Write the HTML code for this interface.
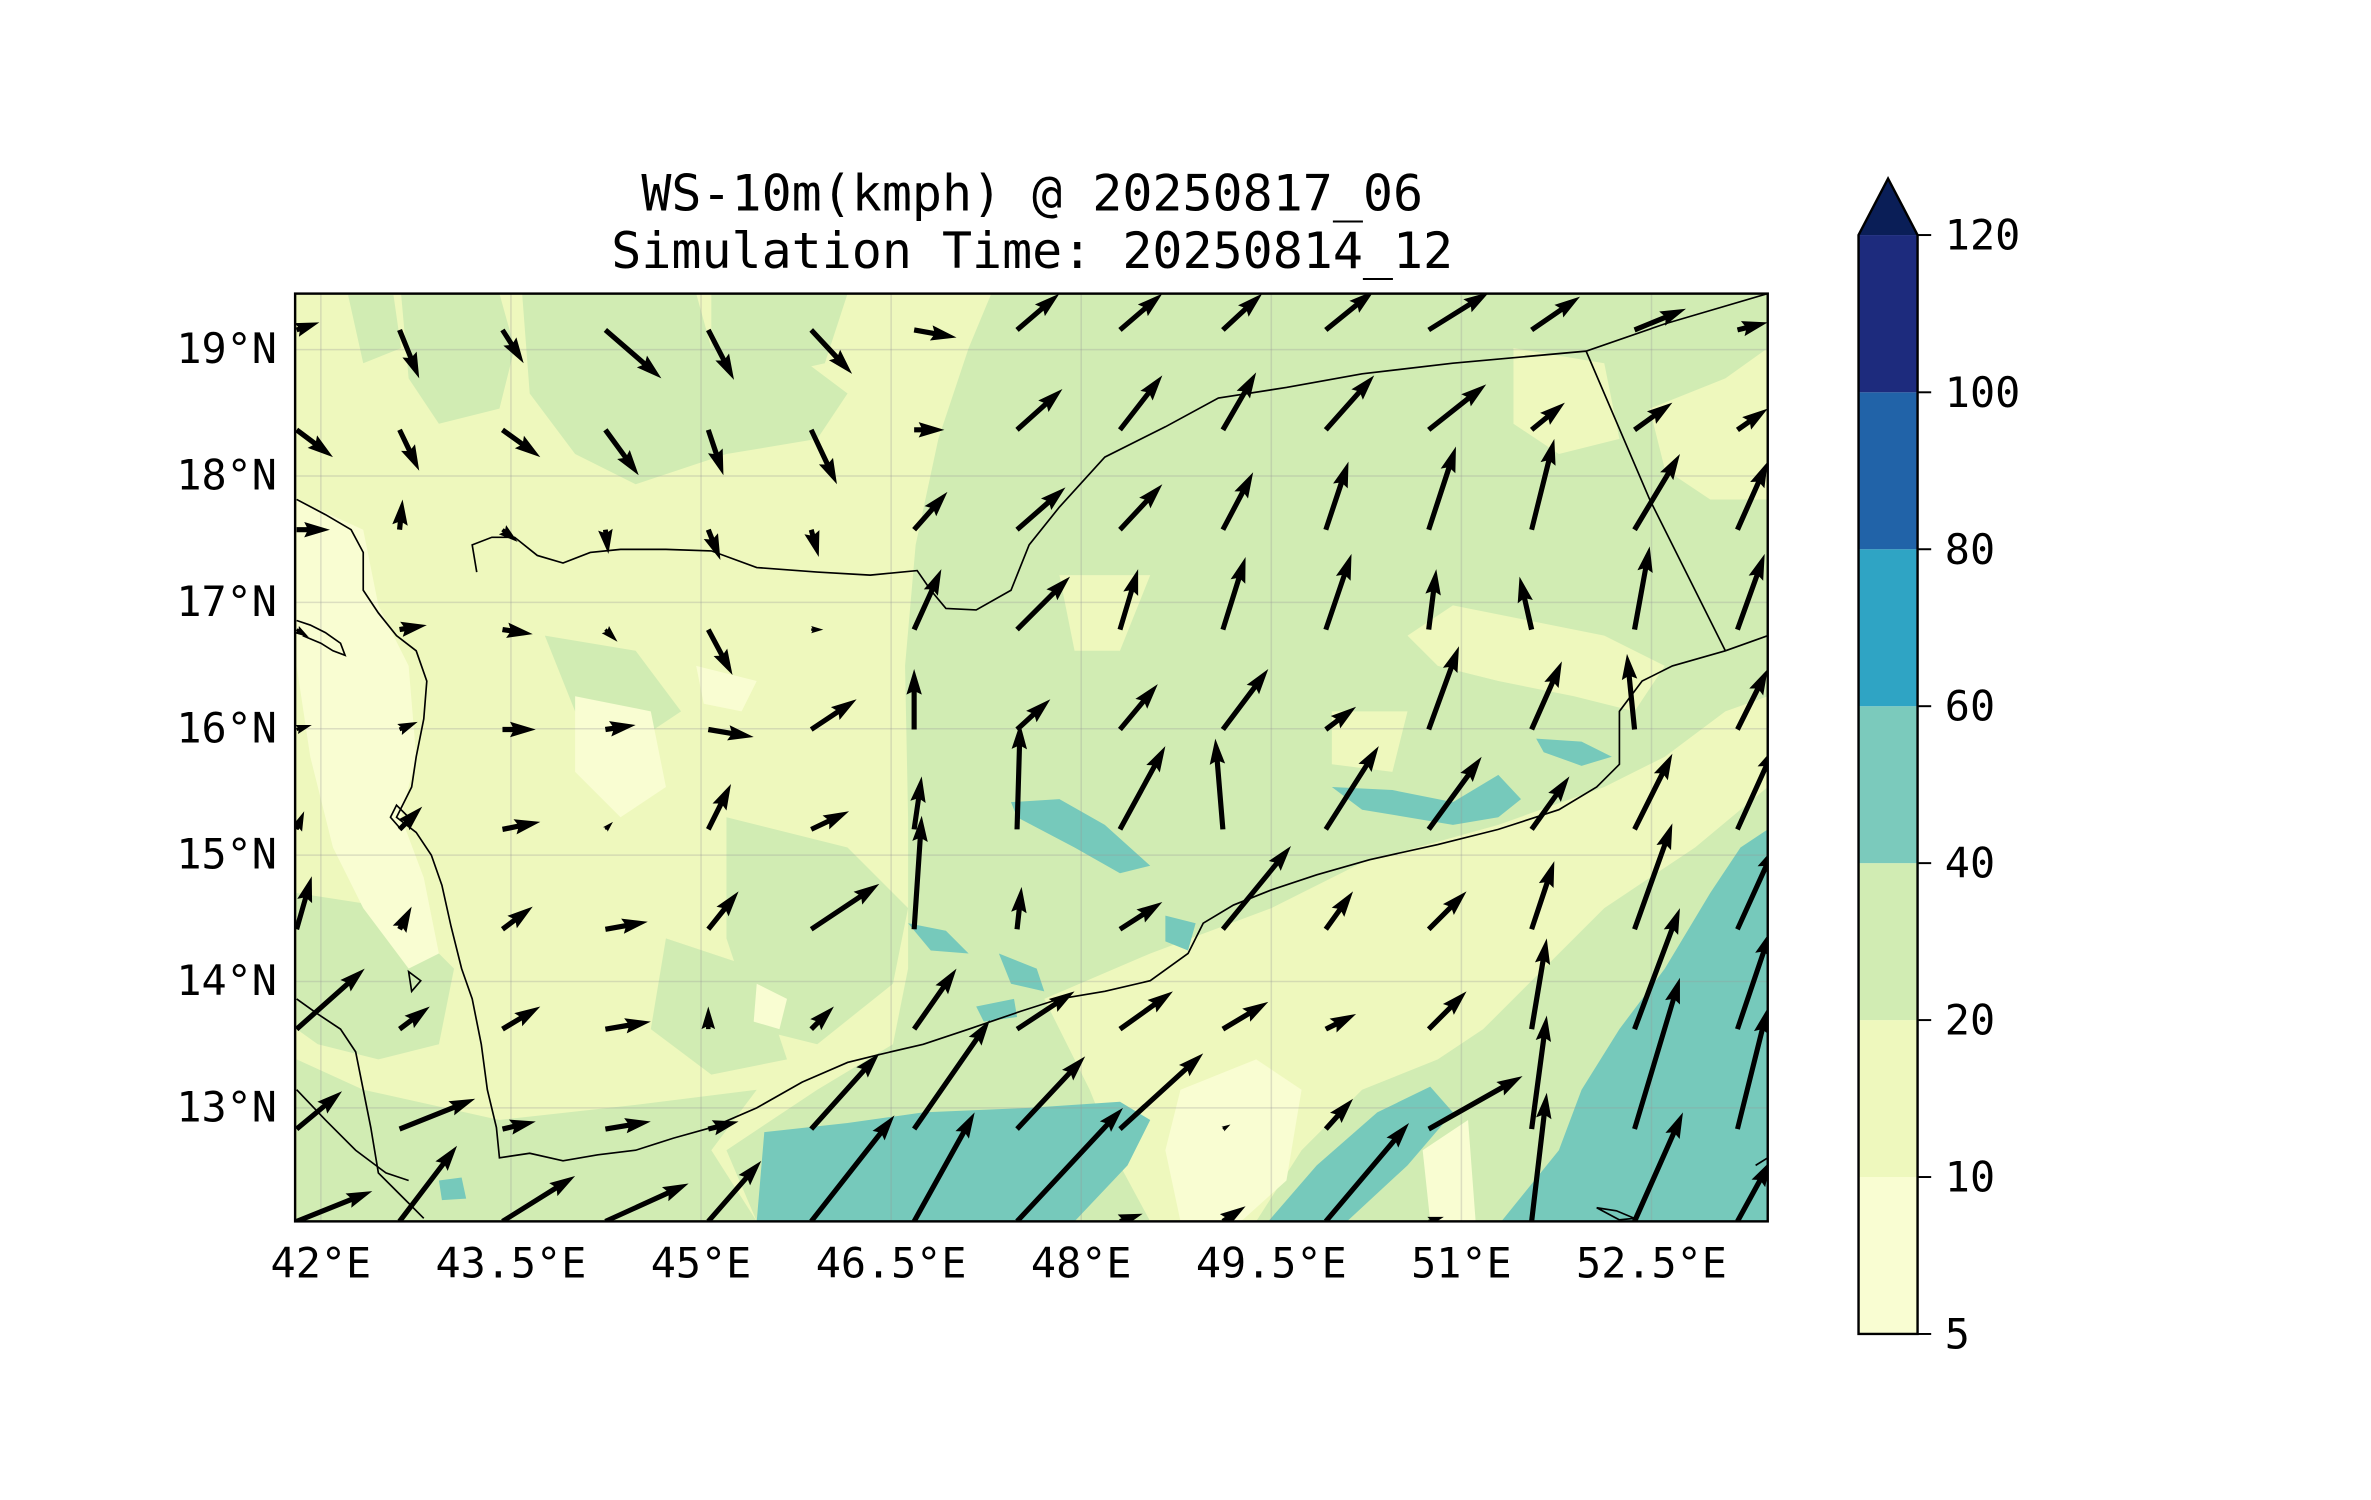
<!DOCTYPE html>
<html><head><meta charset="utf-8"><style>
html,body{margin:0;padding:0;background:#fff;}
svg{display:block;}
text{font-family:"DejaVu Sans Mono","Liberation Mono",monospace;fill:#000;}
</style></head><body>
<svg id="s" width="2371" height="1500" viewBox="0 0 1566.6 991.1" xmlns="http://www.w3.org/2000/svg">
<text x="682" y="139" font-size="33" text-anchor="middle">WS-10m(kmph) @ 20250817_06</text>
<text x="682" y="177" font-size="33" text-anchor="middle">Simulation Time: 20250814_12</text>
<defs><clipPath id="c"><rect x="195" y="194" width="973" height="613"/></clipPath></defs>
<g clip-path="url(#c)">
<rect x="195" y="194" width="973" height="613" fill="#eef8bd"/>
<g fill="#d1ecb3">
<path d="M265,194 L330,194 L340,230 L330,270 L290,280 L270,250 Z"/>
<path d="M345,194 L460,194 L470,230 L520,230 L560,260 L540,290 L480,300 L420,320 L380,300 L350,260 Z"/>
<path d="M470,194 L560,194 L545,240 L500,250 L470,230 Z"/>
<path d="M360,420 L420,430 L450,470 L420,490 L380,470 Z"/>
<path d="M196,590 L260,600 L300,640 L290,690 L250,700 L210,690 L196,680 Z"/>
<path d="M196,700 L240,720 L330,740 L350,807 L196,807 Z"/>
<path d="M330,740 L420,730 L500,720 L470,760 L500,807 L330,807 Z"/>
<path d="M480,540 L560,560 L600,600 L590,650 L540,690 L500,680 L480,620 Z"/>
<path d="M440,620 L500,640 L520,700 L470,710 L430,680 Z"/>
<path d="M230,195 L260,195 L265,230 L240,240 Z"/>
<path d="M655,194 L1168,194 L1168,807 L500,807 L480,760 L540,720 L590,690 L600,640 L600,540 L598,440 L605,360 L620,290 L640,230 Z"/>
</g>
<g fill="#eef8bd">
<path d="M690,660 L760,630 L840,600 L900,570 L990,545 L1060,520 L1100,500 L1140,470 L1168,460 L1168,520 L1120,560 L1060,600 L1020,640 L980,680 L950,700 L900,720 L860,760 L830,807 L760,807 L740,770 L720,720 Z"/>
<path d="M960,400 L1010,410 L1060,420 L1100,440 L1080,470 L1040,460 L990,450 L950,440 L930,420 Z"/>
<path d="M1000,230 L1060,240 L1070,290 L1030,300 L1000,280 Z"/>
<path d="M1090,270 L1140,250 L1168,230 L1168,330 L1130,330 L1100,310 Z"/>
<path d="M700,380 L760,380 L740,430 L710,430 Z"/>
<path d="M560,310 L590,300 L585,350 L570,380 L555,350 Z"/>
<path d="M880,470 L930,470 L920,510 L880,505 Z"/>
</g>
<g fill="#f9fdd2">
<path d="M196,330 L240,350 L250,400 L270,440 L275,500 L265,540 L280,580 L290,630 L270,640 L240,600 L220,560 L205,500 L196,440 Z"/>
<path d="M380,460 L430,470 L440,520 L410,540 L380,510 Z"/>
<path d="M780,720 L830,700 L860,720 L850,780 L820,807 L780,807 L770,760 Z"/>
<path d="M940,760 L970,740 L975,807 L945,807 Z"/>
<path d="M1140,750 L1168,740 L1168,807 L1150,807 Z"/>
<path d="M460,440 L500,450 L490,470 L465,465 Z"/>
<path d="M500,650 L520,660 L515,680 L498,675 Z"/>
</g>
<g fill="#76c9bb">
<path d="M505,748 L560,742 L610,735 L680,732 L740,728 L760,740 L745,770 L710,807 L500,807 Z"/>
<path d="M838,807 L870,770 L910,735 L945,718 L960,735 L930,770 L890,807 Z"/>
<path d="M992,807 L1030,760 L1045,720 L1070,680 L1100,640 L1130,590 L1150,560 L1168,548 L1168,807 Z"/>
<path d="M668,530 L700,528 L730,545 L760,572 L740,577 L710,560 L672,540 Z"/>
<path d="M880,520 L920,522 L960,530 L990,512 L1005,528 L990,540 L960,545 L900,535 Z"/>
<path d="M1015,488 L1045,490 L1065,500 L1045,506 L1020,497 Z"/>
<path d="M600,610 L625,615 L640,630 L615,628 Z"/>
<path d="M660,630 L685,640 L690,655 L668,650 Z"/>
<path d="M770,605 L790,610 L785,628 L770,622 Z"/>
<path d="M645,665 L670,660 L672,672 L650,675 Z"/>
<path d="M290,780 L305,778 L308,792 L292,793 Z"/>
</g>
<g stroke="#999" stroke-opacity="0.3" stroke-width="1">
<line x1="212" y1="194" x2="212" y2="807"/><line x1="337.6" y1="194" x2="337.6" y2="807"/><line x1="463.2" y1="194" x2="463.2" y2="807"/><line x1="588.8" y1="194" x2="588.8" y2="807"/><line x1="714.4" y1="194" x2="714.4" y2="807"/><line x1="840" y1="194" x2="840" y2="807"/><line x1="965.6" y1="194" x2="965.6" y2="807"/><line x1="1091.2" y1="194" x2="1091.2" y2="807"/>
<line x1="195" y1="231" x2="1168" y2="231"/><line x1="195" y1="314.5" x2="1168" y2="314.5"/><line x1="195" y1="398" x2="1168" y2="398"/><line x1="195" y1="481.5" x2="1168" y2="481.5"/><line x1="195" y1="565" x2="1168" y2="565"/><line x1="195" y1="648.5" x2="1168" y2="648.5"/><line x1="195" y1="732" x2="1168" y2="732"/>
</g>
<g fill="none" stroke="#000" stroke-width="1.1">
<path d="M196,330 L215,340 L232,350 L240,365 L240,390 L250,405 L262,420 L275,430 L282,450 L280,475 L275,500 L272,520 L262,540 L275,550 L285,565 L292,585 L298,612 L305,640 L312,660 L318,690 L322,720 L328,745 L330,765 L350,762 L372,767 L395,763 L420,760 L445,752 L470,745 L500,732 L530,715 L560,702 L580,697 L610,690 L640,680 L675,668 L700,660 L730,655 L760,648 L785,630 L795,610 L815,598 L840,588 L870,578 L905,568 L950,558 L990,548 L1030,535 L1055,520 L1070,505 L1070,470 L1085,450 L1105,440 L1140,430 L1168,420"/>
<path d="M315,378 L312,360 L325,355 L340,355 L355,367 L372,372 L390,365 L410,363 L440,363 L470,364 L500,375 L540,378 L575,380 L606,377 L615,390 L625,402 L645,403 L668,390 L680,360 L700,335 L730,302 L770,282 L805,263 L850,256 L900,247 L960,240 L1048,232 L1100,214 L1168,194"/>
<path d="M1048,232 L1090,330 L1140,430"/>
<path d="M196,660 L210,670 L225,680 L235,695 L240,720 L245,745 L250,775 L265,790 L280,805"/>
<path d="M196,720 L215,740 L235,760 L255,775 L270,780"/>
<path d="M196,410 L205,413 L215,418 L225,425 L228,433 L220,430 L212,425 L200,420"/>
<path d="M262,532 L270,540 L265,548 L258,540 Z"/>
<path d="M270,642 L278,648 L272,655 Z"/>
<path d="M1055,798 L1068,800 L1080,805 L1070,806 Z"/>
<path d="M1160,770 L1168,765"/>
</g>
<g id="arrows" fill="#000"></g>
</g>
<rect x="195" y="194" width="973" height="613" fill="none" stroke="#000" stroke-width="1.6"/>
<g font-size="27.6" text-anchor="middle">
<text x="212" y="844">42°E</text><text x="337.6" y="844">43.5°E</text><text x="463.2" y="844">45°E</text><text x="588.8" y="844">46.5°E</text><text x="714.4" y="844">48°E</text><text x="840" y="844">49.5°E</text><text x="965.6" y="844">51°E</text><text x="1091.2" y="844">52.5°E</text>
</g>
<g font-size="27.6" text-anchor="end">
<text x="183" y="240">19°N</text><text x="183" y="323.5">18°N</text><text x="183" y="407">17°N</text><text x="183" y="490.5">16°N</text><text x="183" y="574">15°N</text><text x="183" y="657.5">14°N</text><text x="183" y="741">13°N</text>
</g>
<g stroke="none">
<rect x="1228" y="777.7" width="39" height="103.7" fill="#f9fdd2"/>
<rect x="1228" y="674" width="39" height="103.7" fill="#eef8bd"/>
<rect x="1228" y="570.3" width="39" height="103.7" fill="#d1ecb3"/>
<rect x="1228" y="466.6" width="39" height="103.7" fill="#7bcabc"/>
<rect x="1228" y="362.9" width="39" height="103.7" fill="#2fa4c4"/>
<rect x="1228" y="259.2" width="39" height="103.7" fill="#2163a8"/>
<rect x="1228" y="155.3" width="39" height="103.9" fill="#1d2b7d"/>
<path d="M1228,155.3 L1247.5,118 L1267,155.3 Z" fill="#0a1e57"/>
</g>
<path d="M1228,881.4 L1228,155.3 L1247.5,118 L1267,155.3 L1267,881.4 Z" fill="none" stroke="#000" stroke-width="1.6"/>
<g stroke="#000" stroke-width="1.3">
<line x1="1267" y1="881.4" x2="1276" y2="881.4"/><line x1="1267" y1="777.7" x2="1276" y2="777.7"/><line x1="1267" y1="674" x2="1276" y2="674"/><line x1="1267" y1="570.3" x2="1276" y2="570.3"/><line x1="1267" y1="466.6" x2="1276" y2="466.6"/><line x1="1267" y1="362.9" x2="1276" y2="362.9"/><line x1="1267" y1="259.2" x2="1276" y2="259.2"/><line x1="1267" y1="155.3" x2="1276" y2="155.3"/>
</g>
<g font-size="27.6">
<text x="1285" y="891">5</text><text x="1285" y="787.3">10</text><text x="1285" y="683.6">20</text><text x="1285" y="579.9">40</text><text x="1285" y="476.2">60</text><text x="1285" y="372.5">80</text><text x="1285" y="268.8">100</text><text x="1285" y="164.9">120</text>
</g>
</svg>
<script>
var V=[
[[15,-5],[13,32],[14,22],[37,32],[17,33],[27,29],[28,5],[28,-24],[28,-24],[26,-24],[32,-26],[40,-25],[32,-22],[34,-14],[20,-5]],
[[24,18],[13,27],[25,18],[22,30],[10,30],[17,36],[20,0],[30,-27],[28,-36],[22,-38],[32,-36],[38,-30],[22,-18],[25,-18],[20,-14]],
[[22,0],[2,-20],[10,8],[2,16],[8,20],[5,18],[22,-25],[32,-28],[28,-30],[20,-38],[15,-45],[18,-55],[15,-60],[30,-50],[20,-45]],
[[8,5],[18,-3],[20,3],[8,8],[16,30],[8,0],[18,-40],[35,-35],[12,-40],[15,-48],[17,-50],[5,-40],[-8,-35],[10,-55],[18,-50]],
[[10,-3],[12,-5],[22,0],[20,-3],[30,5],[30,-20],[0,-40],[22,-20],[25,-30],[30,-40],[20,-15],[20,-55],[20,-45],[-5,-50],[20,-40]],
[[5,-12],[15,-15],[25,-5],[5,-5],[15,-30],[25,-12],[5,-35],[2,-70],[30,-55],[-5,-60],[35,-55],[35,-48],[25,-35],[25,-50],[25,-55]],
[[10,-35],[8,-15],[20,-15],[28,-5],[20,-25],[45,-30],[5,-75],[3,-28],[28,-18],[45,-55],[18,-25],[25,-25],[15,-45],[25,-70],[25,-55]],
[[45,-40],[20,-15],[25,-15],[30,-5],[0,-15],[15,-15],[28,-40],[38,-25],[35,-25],[30,-18],[20,-10],[25,-25],[10,-60],[30,-80],[22,-65]],
[[30,-25],[50,-20],[22,-5],[30,-5],[20,-5],[45,-50],[50,-72],[45,-48],[55,-50],[5,-3],[18,-20],[62,-35],[10,-75],[30,-100],[20,-80]],
[[50,-20],[38,-50],[48,-30],[55,-25],[35,-40],[55,-70],[40,-72],[70,-75],[15,-5],[15,-10],[55,-65],[10,-3],[10,-85],[32,-72],[22,-40]]
];
var g=document.getElementById('arrows'),h='';
var w=3.4,hl=5*w,hw=3*w,hal=4.5*w;
for(var j=0;j<10;j++){var y0=218+66*j;if(j==9)y0=807;
for(var k=0;k<15;k++){var x0=196+68*k,dx=V[j][k][0],dy=V[j][k][1];
var L=Math.sqrt(dx*dx+dy*dy);if(L<1)continue;
var s=1;if(L<hl){s=L/hl;}
var ux=dx/L,uy=dy/L,px=-uy,py=ux;
var HL=hl*s,HW=hw*s,HAL=hal*s,W=w*s;
var pts=[[0,-W/2],[L-HAL,-W/2],[L-HL,-HW/2],[L,0],[L-HL,HW/2],[L-HAL,W/2],[0,W/2]];
var str=pts.map(function(p){return (x0+ux*p[0]+px*p[1]).toFixed(1)+','+(y0+uy*p[0]+py*p[1]).toFixed(1);}).join(' ');
h+='<polygon points="'+str+'"/>';}}
g.innerHTML=h;
</script>
</body></html>
